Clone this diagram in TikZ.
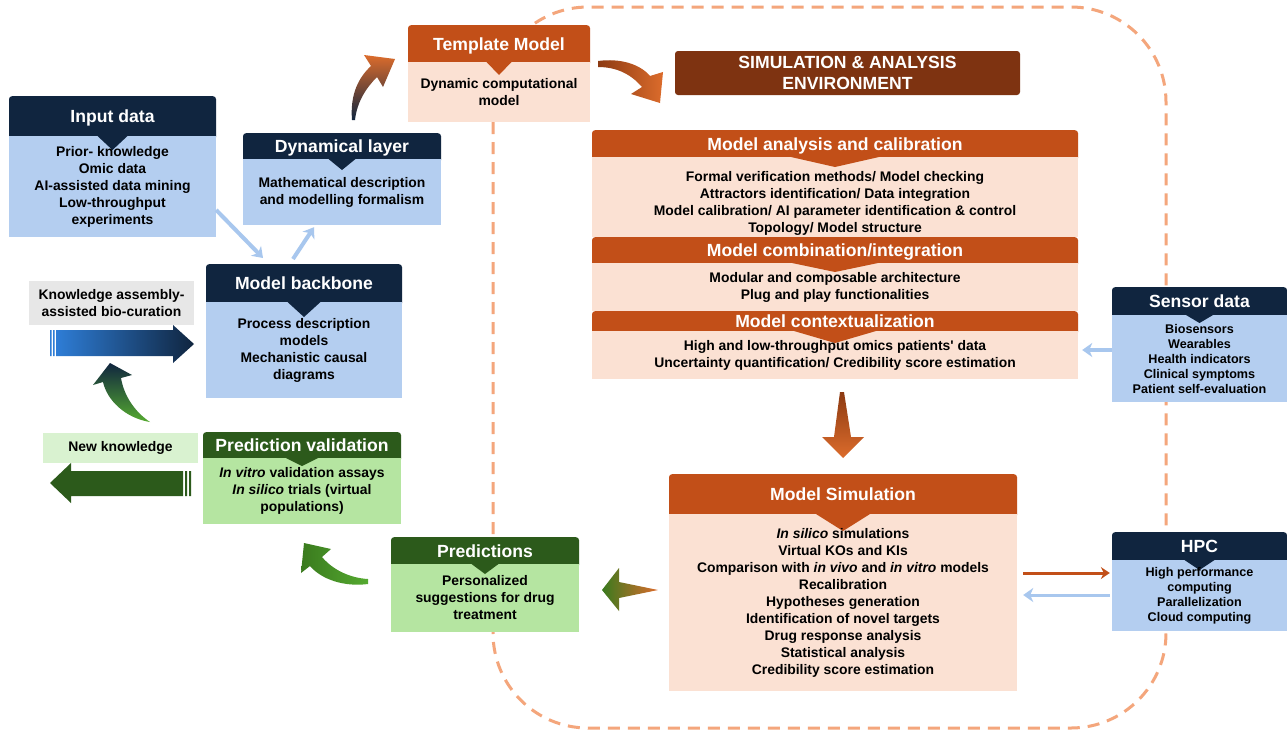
\documentclass[tikz,border=0pt]{standalone}
\usepackage{fontspec}
\setmainfont{Liberation Sans}
\usetikzlibrary{arrows.meta}

\definecolor{navy}{HTML}{10253F}
\definecolor{skyfill}{HTML}{B4CEF0}
\definecolor{rust}{HTML}{C24F18}
\definecolor{peach}{HTML}{FBE1D3}
\definecolor{envbrown}{HTML}{7E3311}
\definecolor{forest}{HTML}{2C5A1B}
\definecolor{mint}{HTML}{B5E5A1}
\definecolor{palemint}{HTML}{D9F2D0}
\definecolor{greybox}{HTML}{E7E7E7}
\definecolor{arrowblue}{HTML}{A8C7EE}
\definecolor{dashorange}{HTML}{F4A67C}
\definecolor{flame}{HTML}{DC6C2C}
\definecolor{ember}{HTML}{8C3A12}
\definecolor{leaf}{HTML}{55AA30}
\definecolor{deepleaf}{HTML}{3A7A1E}
\definecolor{brightblue}{HTML}{2E7DD6}

\newcommand\titlefont{\fontsize{17.6}{20.5}\selectfont\bfseries}
\newcommand\bodyfont{\fontsize{13.9}{17}\selectfont\bfseries}
\newcommand\smallbody{\fontsize{12.6}{15}\selectfont\bfseries}

\begin{document}
\begin{tikzpicture}[x=1pt,y=-1pt,
    head/.style={fill=#1, text=white, font=\titlefont, rounded corners=3pt,
        anchor=north, inner sep=0pt, text height=12.7pt, text depth=4pt},
    body/.style={fill=#1, font=\bodyfont, align=center, inner sep=0pt},
    notebox/.style={fill=#1, font=\bodyfont, align=center, inner sep=0pt},
    notch/.style n args={3}{path picture={
        \fill[#1] ([xshift=-#2pt]path picture bounding box.north)
            -- ([xshift=#2pt]path picture bounding box.north)
            -- ([yshift=-#3pt]path picture bounding box.north) -- cycle;}},
    lbarrow/.style={arrowblue, line width=4pt,
        -{Stealth[length=10pt,width=14pt,inset=3pt]}},
    orarrow/.style={rust, line width=3pt,
        -{Stealth[length=9pt,width=12pt,inset=3pt]}}]

    \fill[white, use as bounding box] (0,0) rectangle (1287,732);

    %% environment frame
    \draw[dashorange, line width=3pt, dash pattern=on 12pt off 8pt,
        rounded corners=95pt] (493,7) rectangle (1166,728);

    %% input data
    \node[head=navy, minimum width=207pt, minimum height=44pt] (inhead) at (112.5,96) {Input data};
    \node[body=skyfill, notch={navy}{15}{14}, minimum width=207pt, minimum height=101pt] (inbody) at (112.5,186.5)
        {Prior- knowledge\\Omic data\\AI-assisted data mining\\Low-throughput\\experiments};

    %% dynamical layer
    \node[head=navy, minimum width=198pt, minimum height=30pt] (dynhead) at (342,133) {Dynamical layer};
    \node[body=skyfill, notch={navy}{13.5}{11}, minimum width=198pt, minimum height=66pt] (dynbody) at (342,192)
        {Mathematical description\\and modelling formalism};

    %% model backbone
    \node[head=navy, minimum width=196pt, minimum height=42pt] (bbhead) at (304,264) {Model backbone};
    \node[body=skyfill, notch={navy}{16.5}{15}, minimum width=196pt, minimum height=96pt] (bbbody) at (304,350)
        {Process description\\models\\Mechanistic causal\\diagrams};

    %% template model
    \node[head=rust, minimum width=182pt, minimum height=41pt] (tmhead) at (499,25) {Template Model};
    \node[body=peach, notch={rust}{12.5}{13}, minimum width=182pt, minimum height=60pt] (tmbody) at (499,92)
        {Dynamic computational\\model};

    %% environment title
    \node[fill=envbrown, text=white, font=\titlefont, rounded corners=3pt, align=center, inner sep=0pt,
        minimum width=345pt, minimum height=44pt] (envhead) at (847.5,73) {SIMULATION \& ANALYSIS\\ENVIRONMENT};

    %% analysis and calibration
    \node[head=rust, minimum width=486pt, minimum height=31pt] (calhead) at (835,130) {Model analysis and calibration};
    \node[body=peach, notch={rust}{44}{10}, minimum width=486pt, minimum height=80pt] (calbody) at (835,197)
        {\rule{0pt}{22pt}Formal verification methods/ Model checking\\Attractors identification/ Data integration\\Model calibration/ AI parameter identification \& control\\Topology/ Model structure};

    %% combination
    \node[head=rust, minimum width=486pt, minimum height=30pt] (combhead) at (835,237) {Model combination/integration};
    \node[body=peach, notch={rust}{43}{9}, minimum width=486pt, minimum height=48pt] (combbody) at (835,287)
        {Modular and composable architecture\\Plug and play functionalities};

    %% contextualization
    \node[head=rust, minimum width=486pt, minimum height=24pt] (ctxhead) at (835,311) {Model contextualization};
    \node[body=peach, notch={rust}{41}{12}, minimum width=486pt, minimum height=48pt] (ctxbody) at (835,355)
        {High and low-throughput omics patients\textquotesingle{} data\\Uncertainty quantification/ Credibility score estimation};

    %% simulation
    \node[head=rust, minimum width=348pt, minimum height=44pt] (simhead) at (843,474) {Model Simulation};
    \node[body=peach, notch={rust}{27}{17}, minimum width=348pt, minimum height=177pt] (simbody) at (843,602.5)
        {\textit{In silico} simulations\\Virtual KOs and KIs\\Comparison with \textit{in vivo} and \textit{in vitro} models\\Recalibration\\Hypotheses generation\\Identification of novel targets\\Drug response analysis\\Statistical analysis\\Credibility score estimation};

    %% sensor data
    \node[head=navy, minimum width=175pt, minimum height=32pt] (senshead) at (1199.5,287) {Sensor data};
    \node[body=skyfill, font=\smallbody, notch={navy}{13.5}{8}, minimum width=175pt, minimum height=87pt] (sensbody) at (1199.5,358.5)
        {Biosensors\\Wearables\\Health indicators\\Clinical symptoms\\Patient self-evaluation};

    %% hpc
    \node[head=navy, minimum width=175pt, minimum height=32pt] (hpchead) at (1199.5,532) {HPC};
    \node[body=skyfill, font=\smallbody, notch={navy}{15}{10}, minimum width=175pt, minimum height=71pt] (hpcbody) at (1199.5,595.5)
        {High performance\\computing\\Parallelization\\Cloud computing};

    %% prediction validation
    \node[head=forest, minimum width=198pt, minimum height=30pt] (valhead) at (302,432) {Prediction validation};
    \node[body=mint, notch={forest}{16}{8}, minimum width=198pt, minimum height=66pt] (valbody) at (302,491)
        {\textit{In vitro} validation assays\\\textit{In silico} trials (virtual\\populations)};

    %% predictions
    \node[head=forest, minimum width=188pt, minimum height=31pt] (predhead) at (485,537) {Predictions};
    \node[body=mint, notch={forest}{13.5}{10}, minimum width=188pt, minimum height=68pt] (predbody) at (485,598)
        {Personalized\\suggestions for drug\\treatment};

    %% side notes
    \node[notebox=greybox, minimum width=165pt, minimum height=44pt] (curation) at (111.5,303)
        {Knowledge assembly-\\assisted bio-curation};
    \node[notebox=palemint, minimum width=155pt, minimum height=30pt] (newknow) at (120.5,448) {New knowledge};

    %% connectors
    \draw[lbarrow] ([yshift=-23.5pt]inbody.east) -- ([xshift=-41pt,yshift=6pt]bbhead.north);
    \draw[lbarrow] ([xshift=-11pt,yshift=5pt]bbhead.north) -- ([xshift=-28pt,yshift=-2pt]dynbody.south);
    \draw[lbarrow, line width=3.5pt] ([yshift=8.5pt]sensbody.west) -- ([xshift=4pt,yshift=5pt]ctxbody.east);
    \draw[orarrow, shorten <=6pt, shorten >=2pt] ([yshift=29.5pt]simbody.east) -- ([yshift=22.5pt]hpcbody.west);
    \draw[lbarrow, line width=3pt, shorten <=2pt, shorten >=6pt] ([yshift=0.5pt]hpcbody.west) -- ([yshift=7.5pt]simbody.east);

    %% block arrows
    \shade[left color=brightblue, right color=navy] (56,330) -- (173,330) -- (173,325) -- (194,344)
        -- (173,363) -- (173,356) -- (56,356) -- cycle;
    \fill[brightblue] (50,330) rectangle (51.5,356) (53,330) rectangle (54.5,356);
    \fill[forest] (50,483) -- (71,463) -- (71,471) -- (183,471) -- (183,496) -- (71,496) -- (71,503) -- cycle;
    \fill[forest] (185,471) rectangle (187,496) (189,471) rectangle (191,496);

    %% curved arrows
    \shade[bottom color=navy, top color=flame] (352,120) .. controls (350,95) and (358,78) .. (371,66)
        -- (364,55) -- (395,59) -- (383,87) -- (377,77) .. controls (366,88) and (357,102) .. (355,120) -- cycle;
    \shade[left color=ember, right color=flame] (598,61) .. controls (620,58) and (640,64) .. (650,76)
        -- (663,72) -- (660,103) -- (631,94) -- (642,87) .. controls (630,73) and (615,67) .. (598,67) -- cycle;
    \shade[top color=navy, bottom color=leaf] (150,422) .. controls (125,418) and (107,400) .. (103,382)
        -- (93,385) -- (110,363) -- (132,375) -- (121,378) .. controls (124,396) and (135,412) .. (150,422) -- cycle;
    \shade[left color=deepleaf, right color=leaf] (368,584) .. controls (345,587) and (322,580) .. (310,566)
        -- (301,573) -- (304,543) -- (331,549) -- (322,557) .. controls (333,570) and (350,578) .. (368,579) -- cycle;
    \shade[left color=deepleaf, right color=flame] (602,590) -- (619,568) -- (619,582) -- (658,590)
        -- (619,598) -- (619,611) -- cycle;
    \shade[top color=ember, bottom color=flame] (840,392) -- (844,392) -- (851,437) -- (864,437)
        -- (843,458) -- (822,437) -- (834,437) -- cycle;
\end{tikzpicture}
\end{document}
